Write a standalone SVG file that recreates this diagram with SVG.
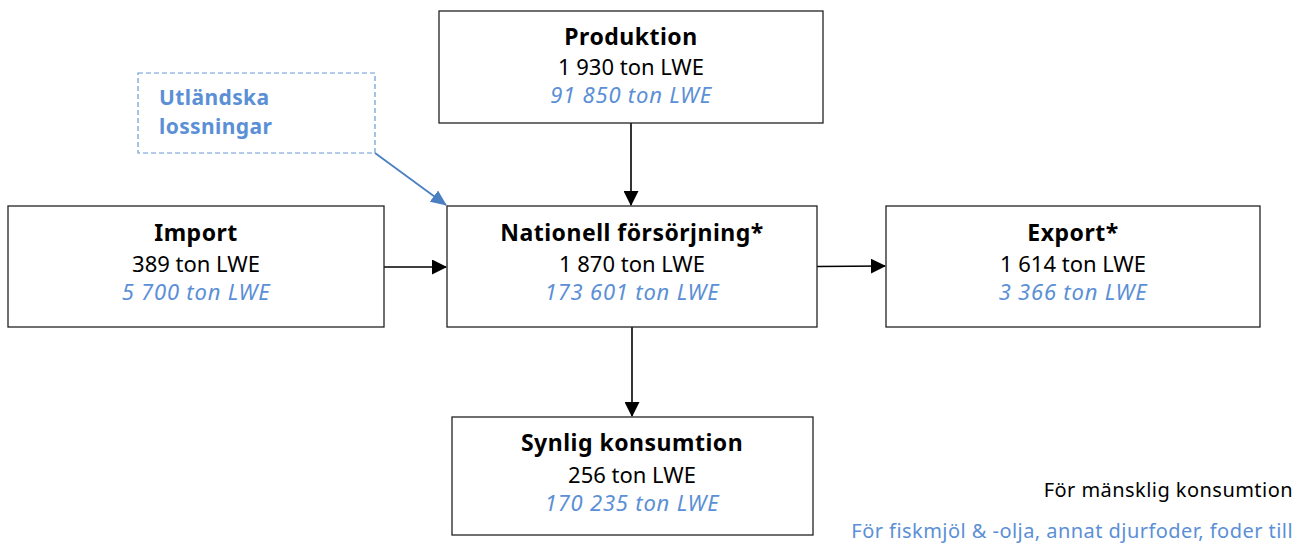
<svg xmlns="http://www.w3.org/2000/svg" width="1298" height="544" viewBox="0 0 1298 544">
<style>
.box{fill:#fff;stroke:#222;stroke-width:1.3}
.t{font-family:"Noto Sans","Liberation Sans",sans-serif;font-size:22px;text-anchor:middle;fill:#000}
.h{font-weight:bold;font-size:23px;letter-spacing:0.5px}
.b{fill:#5b8fd6;font-style:italic;letter-spacing:0.8px}
.conn{stroke:#000;stroke-width:1.6;fill:none}
.note{font-family:"Noto Sans","Liberation Sans",sans-serif;font-size:20px;letter-spacing:0.45px;text-anchor:end}
.ut{font-family:"Noto Sans","Liberation Sans",sans-serif;font-size:21px;font-weight:bold;letter-spacing:0.4px;fill:#5b8fd6}
</style>
<defs>
<marker id="ah" markerWidth="15" markerHeight="15" refX="14" refY="7.5" orient="auto" markerUnits="userSpaceOnUse" viewBox="0 0 15 15">
<path d="M0,0 L15,7.5 L0,15 z" fill="#000"/>
</marker>
<marker id="ahb" markerWidth="16" markerHeight="16" refX="15" refY="8" orient="auto" markerUnits="userSpaceOnUse" viewBox="0 0 16 16">
<path d="M0,1 L16,8 L0,15 z" fill="#4a7fc1"/>
</marker>
</defs>
<g id="connectors">
<line class="conn" x1="631" y1="123" x2="631" y2="205" marker-end="url(#ah)"/>
<line class="conn" x1="384" y1="267" x2="446" y2="267" marker-end="url(#ah)"/>
<line class="conn" x1="817" y1="266.5" x2="885" y2="266" marker-end="url(#ah)"/>
<line class="conn" x1="632" y1="327" x2="632" y2="416" marker-end="url(#ah)"/>
<line x1="375" y1="153" x2="446" y2="205" stroke="#4a7fc1" stroke-width="1.8" marker-end="url(#ahb)"/>
</g>
<g id="utlandska">
<rect x="138" y="73" width="237" height="80" fill="none" stroke="#6a9ad6" stroke-width="1.2" stroke-dasharray="5,3"/>
<text class="ut" x="159" y="105">Utländska</text>
<text class="ut" x="159" y="134">lossningar</text>
</g>
<g id="produktion">
<rect class="box" x="439" y="11" width="384" height="112"/>
<text class="t h" x="631" y="45">Produktion</text>
<text class="t" x="631" y="75">1 930 ton LWE</text>
<text class="t b" x="631" y="103">91 850 ton LWE</text>
</g>
<g id="import">
<rect class="box" x="8" y="206" width="376" height="121"/>
<text class="t h" x="196" y="241">Import</text>
<text class="t" x="196" y="272">389 ton LWE</text>
<text class="t b" x="196" y="300">5 700 ton LWE</text>
</g>
<g id="nationell">
<rect class="box" x="447" y="206" width="370" height="121"/>
<text class="t h" x="632" y="241">Nationell försörjning*</text>
<text class="t" x="632" y="272">1 870 ton LWE</text>
<text class="t b" x="632" y="300">173 601 ton LWE</text>
</g>
<g id="export">
<rect class="box" x="886" y="206" width="374" height="121"/>
<text class="t h" x="1073" y="241">Export*</text>
<text class="t" x="1073" y="272">1 614 ton LWE</text>
<text class="t b" x="1073" y="300">3 366 ton LWE</text>
</g>
<g id="synlig">
<rect class="box" x="452" y="417" width="361" height="118"/>
<text class="t h" x="632" y="451">Synlig konsumtion</text>
<text class="t" x="632" y="483">256 ton LWE</text>
<text class="t b" x="632" y="511">170 235 ton LWE</text>
</g>
<g id="legend">
<text class="note" x="1293" y="497" fill="#000">För mänsklig konsumtion</text>
<text class="note" x="1293" y="538" fill="#5b8fd6">För fiskmjöl &amp; -olja, annat djurfoder, foder till</text>
</g>
</svg>
